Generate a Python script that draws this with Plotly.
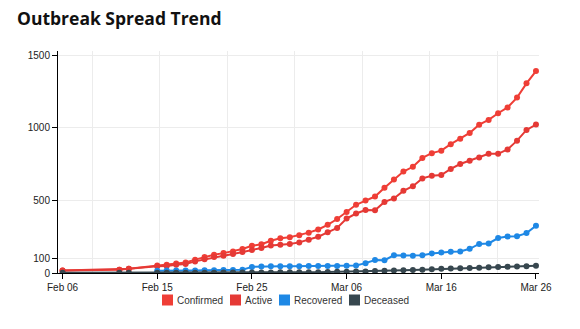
import plotly.graph_objects as go
import pandas as pd

# ---- data ----
early_dates = ["2020-02-05", "2020-02-11", "2020-02-12"]
daily_dates = [d.strftime("%Y-%m-%d") for d in pd.date_range("2020-02-15", "2020-03-26", freq="D")]
dates = early_dates + daily_dates
recovered_dates = daily_dates

confirmed = [17, 23, 30,
             52, 57, 66, 73, 92, 110, 126, 137, 149, 165, 188,
             198, 222, 240, 247, 261, 278, 300, 332, 372, 420,
             470, 499, 527, 587, 645, 699, 732, 793, 826, 843,
             888, 925, 965, 1022, 1055, 1101, 1141, 1209, 1307, 1392]
active = [17, 23, 29,
          46, 48, 57, 62, 80, 94, 110, 119, 131, 144, 158,
          172, 190, 195, 200, 211, 229, 250, 280, 310, 375,
          410, 434, 432, 490, 514, 566, 598, 652, 670, 675,
          717, 751, 773, 796, 821, 821, 851, 912, 986, 1023]
recovered = [15, 17, 18, 18, 18, 19, 19, 20, 20, 22, 42,
             45, 46, 46, 47, 47, 48, 48, 49, 49, 50,
             52, 68, 90, 88, 122, 120, 119, 122, 135, 142,
             147, 148, 167, 200, 204, 241, 252, 254, 275, 326]
deceased = [1, 1, 1,
            2, 2, 2, 2, 2, 2, 2, 3, 3, 3, 3,
            4, 4, 5, 5, 5, 6, 6, 7, 8, 9,
            10, 11, 13, 15, 17, 19, 21, 23, 26, 29,
            31, 33, 35, 37, 39, 41, 43, 45, 47, 50]

series_names = ["Confirmed", "Active", "Recovered", "Deceased"]
series_colors = ["#ef3e36", "#e53935", "#1e88e5", "#37474f"]

x_tick_dates = ["2020-02-05", "2020-02-15", "2020-02-25", "2020-03-06", "2020-03-16", "2020-03-26"]
x_tick_labels = ["Feb 06", "Feb 15", "Feb 25", "Mar 06", "Mar 16", "Mar 26"]
y_tick_vals = [0, 100, 500, 1000, 1500]

# ---- layout constants ----
W, H = 580, 329
ML, MR, MT, MB = 58, 41, 51, 56
PW, PH = W - ML - MR, H - MT - MB

def px_x(px):
    return (px - ML) / PW

def px_y(py):
    return (H - MB - py) / PH

# legend item pixel positions (left edge of each swatch)
legend_swatch_left = [162, 230, 279, 349]
legend_y = 300
swatch = 11

base = pd.Timestamp("2020-02-15")
x_start = base - pd.Timedelta(days=10.48)
x_end = base + pd.Timedelta(days=40.32)
grid_start = base - pd.Timedelta(days=6.857)
grid_step_ms = 7.125 * 24 * 3600 * 1000

fig = go.Figure()
xs = [dates, dates, recovered_dates, dates]
ys = [confirmed, active, recovered, deceased]
for name, color, x, y in zip(series_names, series_colors, xs, ys):
    fig.add_trace(go.Scatter(
        x=x, y=y, mode="lines+markers", name=name, showlegend=False,
        line=dict(color=color, width=2),
        marker=dict(color=color, size=6),
    ))
# invisible trace to carry the overlay grid axis
fig.add_trace(go.Scatter(x=[dates[0]], y=[0], xaxis="x2", mode="markers",
                         marker=dict(opacity=0), showlegend=False, hoverinfo="skip"))

# compact legend: swatches + labels
for name, color, left in zip(series_names, series_colors, legend_swatch_left):
    fig.add_shape(type="rect", xref="paper", yref="paper",
                  x0=px_x(left), x1=px_x(left + swatch),
                  y0=px_y(legend_y + swatch / 2), y1=px_y(legend_y - swatch / 2),
                  fillcolor=color, line=dict(width=0))
    fig.add_annotation(text=name, xref="paper", yref="paper",
                       x=px_x(left + swatch + 3), y=px_y(legend_y),
                       xanchor="left", yanchor="middle", showarrow=False,
                       borderpad=0,
                       font=dict(family="Liberation Sans, Arial, sans-serif",
                                 size=10, color="#333"))

tick_font = dict(family="Liberation Sans, Arial, sans-serif", size=10, color="#222")

fig.update_layout(
    width=W, height=H,
    margin=dict(l=ML, r=MR, t=MT, b=MB),
    paper_bgcolor="white", plot_bgcolor="white",
    showlegend=False,
    title=dict(text="Outbreak Spread Trend", x=17 / W, xanchor="left",
               y=1 - 19 / H, yanchor="middle",
               font=dict(family="Open Sans, sans-serif", size=17.5, color="#111", weight="bold")),
    xaxis=dict(type="date", range=[x_start, x_end], tickmode="array",
               tickvals=x_tick_dates, ticktext=x_tick_labels,
               ticks="outside", ticklen=5, tickcolor="#000",
               showline=True, linecolor="#000", linewidth=1,
               showgrid=False, zeroline=False, tickfont=tick_font),
    xaxis2=dict(type="date", overlaying="x", range=[x_start, x_end],
                tick0=grid_start, dtick=grid_step_ms, showgrid=True,
                gridcolor="#ececec", gridwidth=1, showticklabels=False,
                ticks="", showline=False, zeroline=False, side="bottom"),
    yaxis=dict(range=[0, 1530], tickmode="array", tickvals=y_tick_vals,
               ticks="outside", ticklen=5, tickcolor="#000",
               showline=True, linecolor="#000", linewidth=1,
               showgrid=True, gridcolor="#ececec", zeroline=False,
               tickfont=tick_font),
    hovermode=False,
)

fig.write_html("out.html")
